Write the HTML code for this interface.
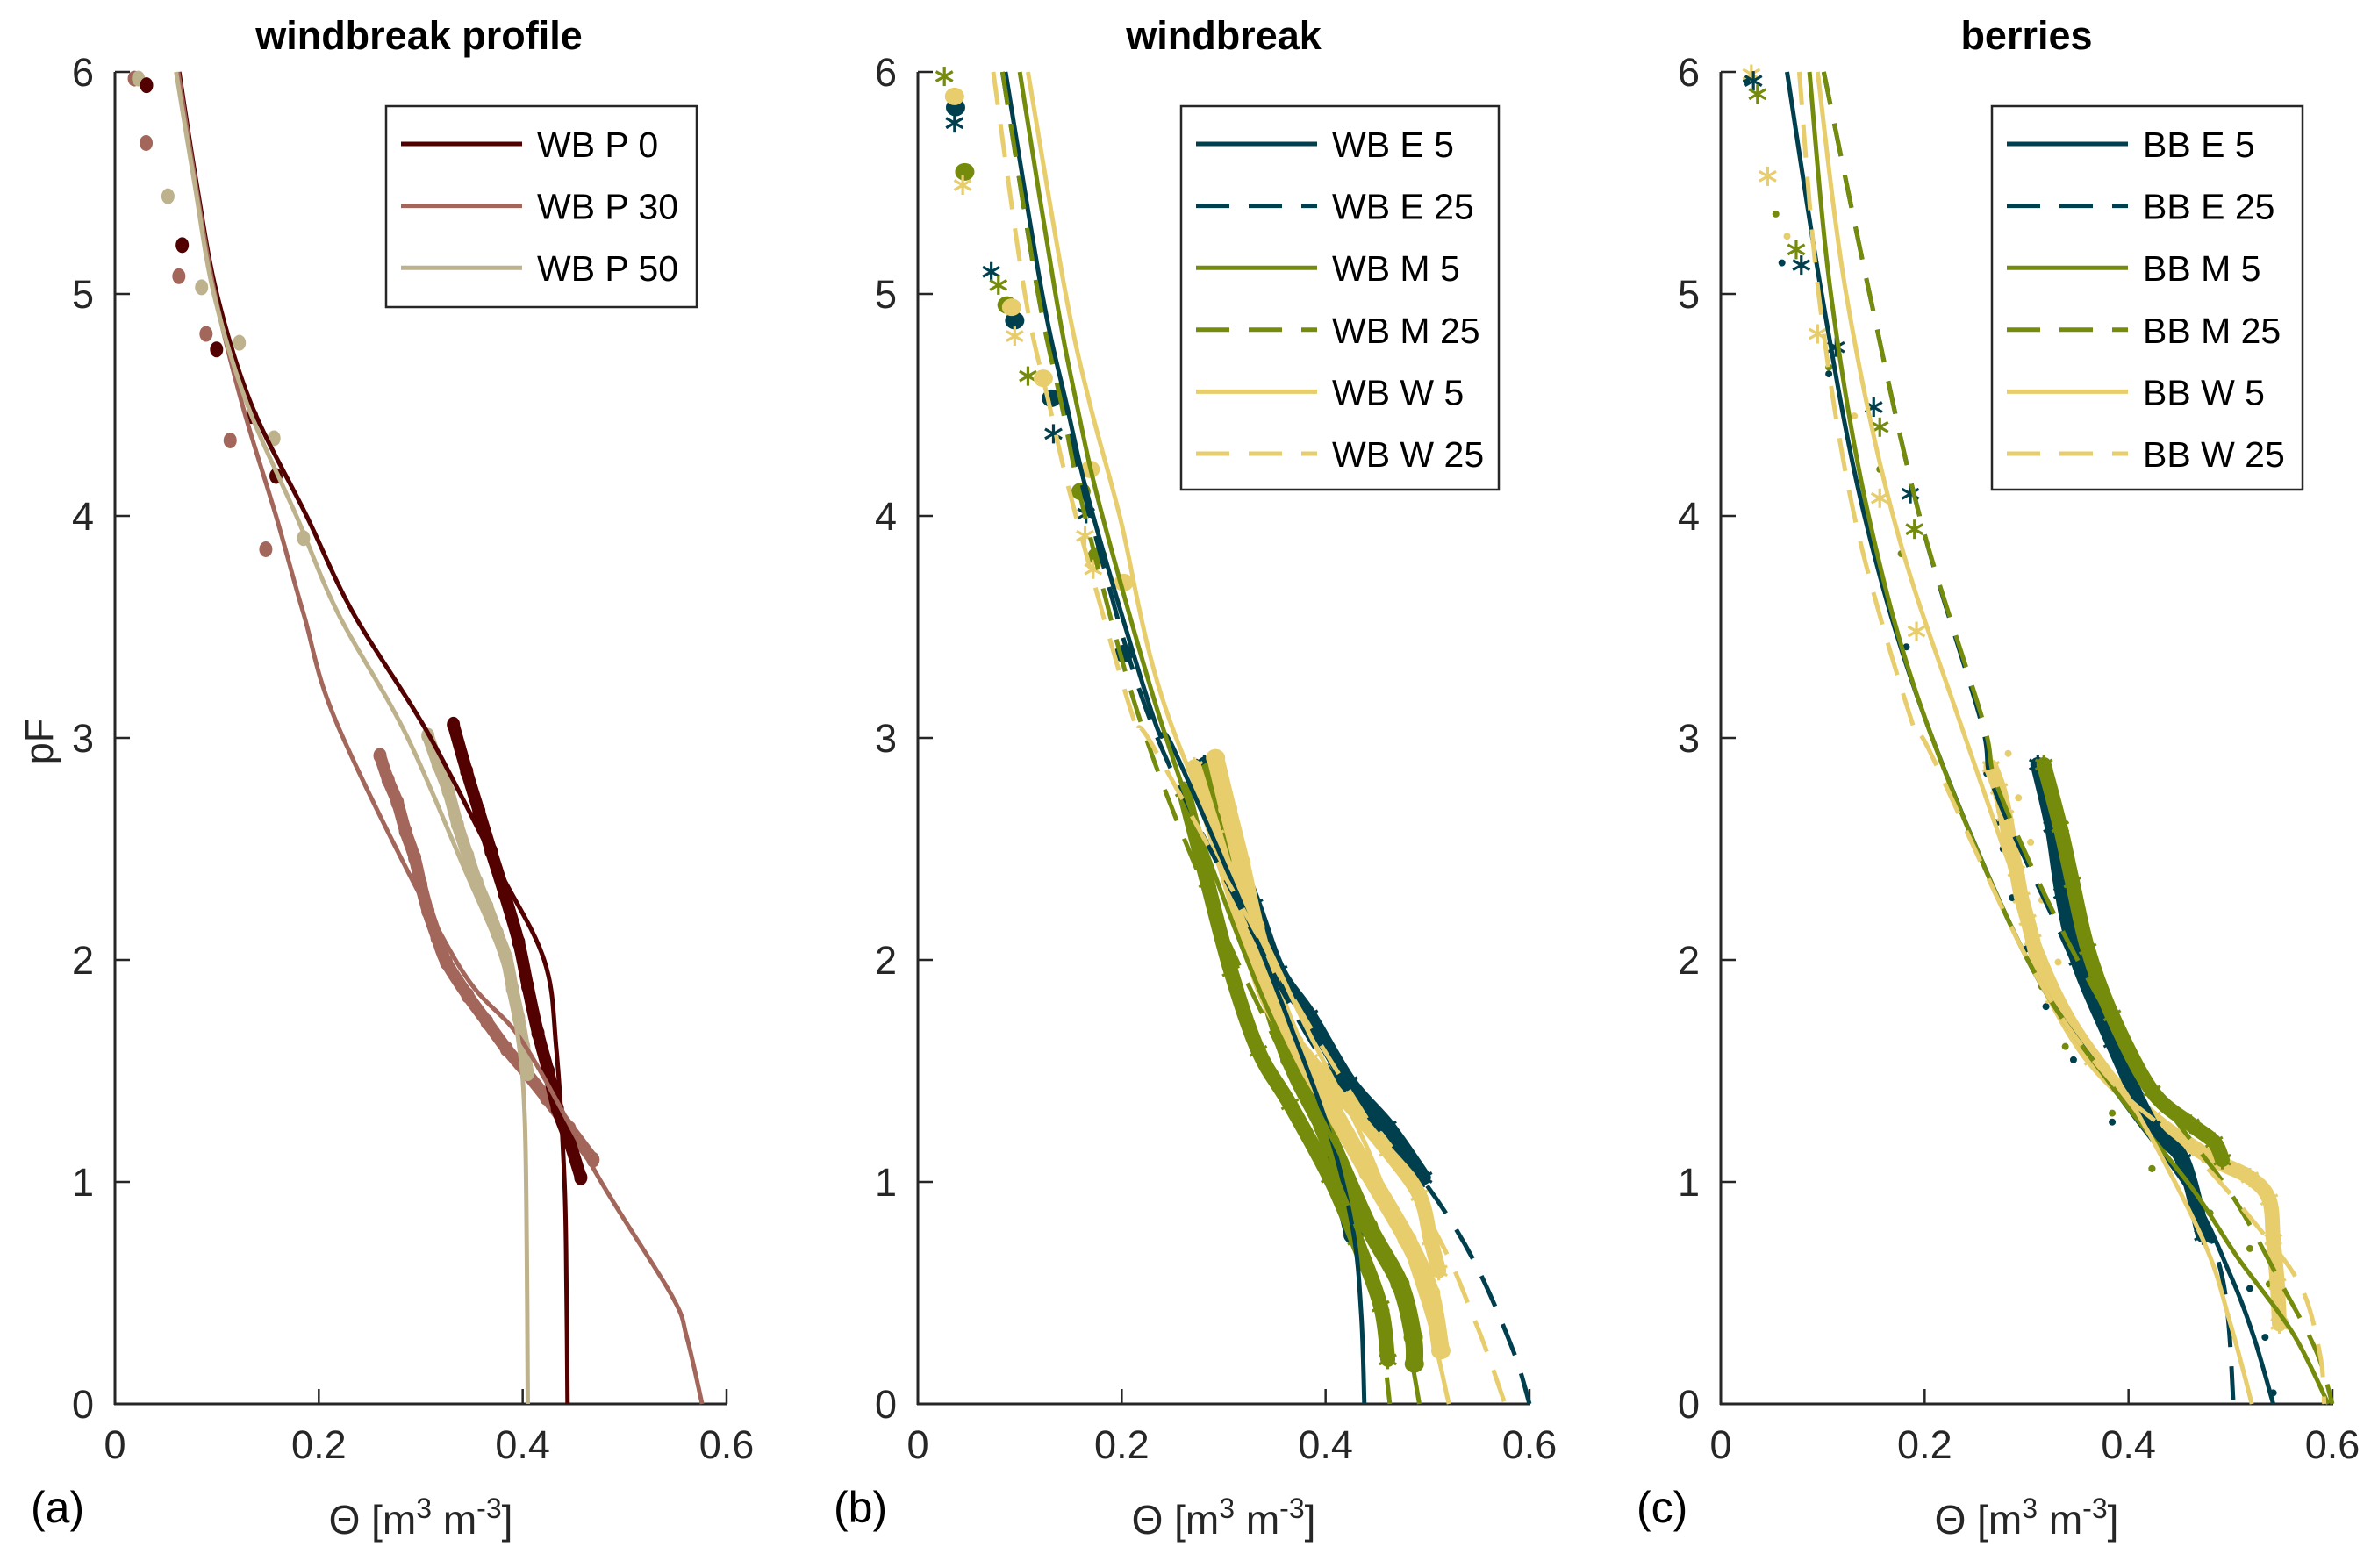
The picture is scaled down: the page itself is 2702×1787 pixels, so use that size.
<!DOCTYPE html>
<html><head><meta charset="utf-8"><style>
html,body{margin:0;padding:0;background:#fff;}
svg text{font-family:"Liberation Sans",Arial,sans-serif;}
</style></head><body>
<svg id="chart" xmlns="http://www.w3.org/2000/svg" width="2702" height="1782" viewBox="0 0 2702 1782">
<rect width="2702" height="1782" fill="#fff"/>
</svg>
<script>
// ---------- data ----------
const xTicks = [0, 0.2, 0.4, 0.6];
const xTickLabels = ["0", "0.2", "0.4", "0.6"];
const yTicks = [0, 1, 2, 3, 4, 5, 6];
const yTickLabels = ["0", "1", "2", "3", "4", "5", "6"];
const panelTitles = ["windbreak profile", "windbreak", "berries"];
const panelLetters = ["(a)", "(b)", "(c)"];

// Panel a fitted curves [theta, pF]
const aP0fit = [[0.063,6],[0.080,5.5],[0.100,5],[0.134,4.5],[0.188,4],[0.234,3.56],[0.306,3.03],[0.375,2.42],[0.421,2.0],[0.433,1.6],[0.441,1.0],[0.443,0.5],[0.444,0]];
const aP30fit = [[0.062,6],[0.079,5.5],[0.098,5],[0.125,4.5],[0.158,4],[0.185,3.56],[0.221,3.03],[0.334,2.0],[0.40,1.63],[0.477,1.0],[0.546,0.49],[0.561,0.30],[0.576,0]];
const aP50fit = [[0.060,6],[0.078,5.5],[0.097,5],[0.130,4.5],[0.178,4],[0.219,3.56],[0.284,3.03],[0.342,2.42],[0.380,2.0],[0.396,1.63],[0.402,1.29],[0.404,0.7],[0.405,0]];
// Panel a observations
const aP0obs = [[0.031,5.94],[0.066,5.22],[0.0997,4.75],[0.134,4.45],[0.158,4.18],[0.332,3.06],[0.345,2.85],[0.357,2.67],[0.369,2.49],[0.382,2.30],[0.396,2.08],[0.405,1.88],[0.415,1.67],[0.425,1.50],[0.434,1.33],[0.446,1.18],[0.457,1.02]];
const aP30obs = [[0.019,5.97],[0.0306,5.68],[0.0627,5.08],[0.0894,4.82],[0.113,4.34],[0.148,3.85],[0.260,2.92],[0.268,2.81],[0.277,2.71],[0.285,2.58],[0.294,2.46],[0.300,2.34],[0.307,2.22],[0.316,2.10],[0.325,1.99],[0.346,1.84],[0.365,1.72],[0.384,1.60],[0.404,1.49],[0.423,1.38],[0.446,1.24],[0.469,1.10]];
const aP50obs = [[0.023,5.97],[0.052,5.44],[0.085,5.03],[0.122,4.78],[0.156,4.35],[0.185,3.90],[0.307,3.01],[0.317,2.88],[0.327,2.76],[0.336,2.61],[0.346,2.47],[0.355,2.35],[0.365,2.24],[0.375,2.12],[0.384,2.01],[0.390,1.87],[0.396,1.74],[0.401,1.61],[0.405,1.49]];

// Panel b fitted curves
const bE5fit = [[0.086,6],[0.122,5],[0.146,4.5],[0.172,4],[0.232,3.08],[0.25,2.96],[0.327,2.15],[0.365,1.71],[0.404,1.22],[0.427,0.78],[0.435,0.4],[0.438,0]];
const bE25fit = [[0.083,6],[0.118,5],[0.142,4.5],[0.169,4],[0.228,3.08],[0.32,2.2],[0.39,1.6],[0.45,1.25],[0.50,0.98],[0.546,0.64],[0.584,0.24],[0.600,0]];
const bM5fit = [[0.100,6],[0.135,5],[0.156,4.5],[0.181,4],[0.238,3.08],[0.29,2.4],[0.346,1.75],[0.423,1.04],[0.465,0.56],[0.480,0.3],[0.492,0]];
const bM25fit = [[0.083,6],[0.118,5],[0.141,4.5],[0.164,4],[0.218,3.08],[0.292,2.21],[0.384,1.31],[0.442,0.64],[0.455,0.3],[0.463,0]];
const bW5fit = [[0.108,6],[0.145,5],[0.169,4.5],[0.198,4],[0.247,3.08],[0.365,1.85],[0.442,1.14],[0.496,0.46],[0.521,0]];
const bW25fit = [[0.074,6],[0.105,5],[0.129,4.5],[0.155,4],[0.212,3.08],[0.231,2.96],[0.373,1.79],[0.50,0.84],[0.546,0.38],[0.576,0]];
// Panel b observations
const bEcirc = [[0.037,5.84],[0.095,4.88],[0.131,4.53],[0.202,3.38],[0.284,2.88],[0.300,2.55],[0.320,2.2],[0.346,1.85],[0.365,1.65],[0.384,1.45],[0.405,1.15],[0.427,0.76]];
const bEstar = [[0.036,5.77],[0.072,5.10],[0.133,4.37],[0.165,4.01],[0.281,2.88],[0.304,2.56],[0.33,2.25],[0.354,1.95],[0.384,1.75],[0.423,1.45],[0.461,1.25],[0.496,1.02]];
const bMcirc = [[0.046,5.55],[0.0875,4.95],[0.160,4.11],[0.176,3.82],[0.286,2.85],[0.307,2.58],[0.319,2.35],[0.338,1.95],[0.365,1.55],[0.404,1.19],[0.442,0.80],[0.473,0.54],[0.486,0.30],[0.487,0.18]];
const bMstar = [[0.026,5.98],[0.079,5.04],[0.108,4.63],[0.261,2.76],[0.284,2.35],[0.307,1.95],[0.334,1.59],[0.365,1.35],[0.404,1.02],[0.430,0.74],[0.454,0.44],[0.461,0.20]];
const bWcirc = [[0.036,5.89],[0.092,4.94],[0.123,4.62],[0.169,4.21],[0.202,3.70],[0.292,2.91],[0.304,2.68],[0.317,2.44],[0.331,2.15],[0.346,1.91],[0.369,1.63],[0.404,1.35],[0.442,1.04],[0.480,0.74],[0.503,0.50],[0.513,0.24]];
const bWstar = [[0.044,5.49],[0.095,4.81],[0.164,3.91],[0.172,3.76],[0.271,2.87],[0.292,2.56],[0.319,2.15],[0.346,1.79],[0.384,1.55],[0.423,1.35],[0.461,1.14],[0.492,0.94],[0.503,0.74],[0.511,0.60]];

// Panel c fitted curves
const cE5fit = [[0.065,6],[0.099,5],[0.141,4],[0.201,3.08],[0.300,2.01],[0.384,1.43],[0.461,0.95],[0.50,0.58],[0.523,0.30],[0.542,0]];
const cE25fit = [[0.101,6],[0.146,5],[0.195,4],[0.255,3.08],[0.269,2.76],[0.338,2.07],[0.404,1.38],[0.453,1.06],[0.492,0.57],[0.503,0]];
const cM5fit = [[0.087,6],[0.108,5],[0.145,4],[0.201,3.08],[0.300,2.01],[0.384,1.43],[0.461,0.98],[0.507,0.66],[0.561,0.32],[0.596,0]];
const cM25fit = [[0.101,6],[0.146,5],[0.195,4],[0.257,3.08],[0.273,2.76],[0.342,2.07],[0.423,1.43],[0.50,0.95],[0.55,0.54],[0.584,0.24],[0.600,0]];
const cW5fit = [[0.095,6],[0.123,5],[0.169,4],[0.231,3.12],[0.327,1.91],[0.404,1.35],[0.473,0.74],[0.50,0.36],[0.521,0]];
const cW25fit = [[0.077,6],[0.096,5],[0.131,4],[0.187,3.08],[0.205,2.94],[0.307,1.95],[0.384,1.45],[0.461,1.14],[0.53,0.78],[0.57,0.52],[0.588,0.22],[0.592,0]];
// Panel c observations
const cEstar = [[0.032,5.96],[0.079,5.13],[0.113,4.76],[0.150,4.49],[0.186,4.10],[0.311,2.88],[0.325,2.6],[0.335,2.3],[0.35,2.0],[0.384,1.63],[0.423,1.25],[0.453,1.10],[0.473,0.76]];
const cMstar = [[0.036,5.90],[0.074,5.20],[0.156,4.40],[0.19,3.94],[0.317,2.88],[0.333,2.6],[0.345,2.35],[0.36,2.05],[0.384,1.75],[0.423,1.41],[0.461,1.26],[0.484,1.18],[0.492,1.10]];
const cWstar = [[0.030,5.99],[0.046,5.53],[0.095,4.82],[0.156,4.08],[0.192,3.48],[0.265,2.87],[0.273,2.77],[0.279,2.65],[0.284,2.52],[0.29,2.40],[0.295,2.28],[0.301,2.18],[0.306,2.09],[0.311,2.00],[0.327,1.83],[0.365,1.55],[0.423,1.29],[0.480,1.11],[0.519,1.02],[0.538,0.92],[0.542,0.74],[0.546,0.54],[0.548,0.36]];
const cEdot = [[0.025,5.96],[0.060,5.14],[0.106,4.64],[0.182,3.41],[0.261,2.84],[0.271,2.62],[0.277,2.50],[0.286,2.28],[0.300,2.05],[0.319,1.79],[0.346,1.55],[0.384,1.27],[0.423,1.06],[0.48,0.74],[0.519,0.52],[0.534,0.30],[0.542,0.05]];
const cMdot = [[0.054,5.36],[0.106,4.67],[0.156,4.21],[0.177,3.83],[0.284,2.55],[0.294,2.34],[0.315,1.88],[0.338,1.61],[0.384,1.31],[0.423,1.06],[0.48,0.86],[0.519,0.70],[0.538,0.54]];
const cWdot = [[0.065,5.26],[0.131,4.45],[0.282,2.93],[0.292,2.73],[0.304,2.53],[0.315,2.27],[0.331,1.99],[0.354,1.67],[0.384,1.45],[0.423,1.25]];

// ---------- drawing ----------
const NS = "http://www.w3.org/2000/svg";
const svg = document.getElementById("chart");
const panelX0 = [131, 1046, 1961];
const plotW = 697, yTop = 82, yBot = 1600;
const C = {p0:"#520000", p30:"#a3665a", p50:"#beb28c", E:"#003f4e", M:"#748b0c", W:"#e7cd6b"};

function mk(tag, attrs, parent){
  const el = document.createElementNS(NS, tag);
  for (const k in attrs) el.setAttribute(k, attrs[k]);
  (parent || svg).appendChild(el);
  return el;
}
function sxF(p){ return t => panelX0[p] + t / 0.6 * plotW; }
function sy(v){ return yBot - v / 6 * (yBot - yTop); }

function smoothPath(pts){
  if (pts.length < 3) return "M" + pts.map(q => q[0] + "," + q[1]).join(" L");
  let d = "M" + pts[0][0] + "," + pts[0][1];
  for (let i = 0; i < pts.length - 1; i++) {
    const p0 = pts[i - 1] || pts[i], p1 = pts[i], p2 = pts[i + 1], p3 = pts[i + 2] || pts[i + 1];
    const c1x = p1[0] + (p2[0] - p0[0]) / 6, c1y = p1[1] + (p2[1] - p0[1]) / 6;
    const c2x = p2[0] - (p3[0] - p1[0]) / 6, c2y = p2[1] - (p3[1] - p1[1]) / 6;
    d += " C" + c1x + "," + c1y + " " + c2x + "," + c2y + " " + p2[0] + "," + p2[1];
  }
  return d;
}

function drawAxes(p){
  const sx = sxF(p);
  const g = mk("g", {});
  
  
  mk("line", {x1:sx(0), y1:yTop, x2:sx(0), y2:yBot+1, stroke:"#262626", "stroke-width":3}, g);
  mk("line", {x1:sx(0)-1, y1:yBot, x2:sx(0.6)+1, y2:yBot, stroke:"#262626", "stroke-width":3}, g);
  yTicks.forEach((v, i) => {
    mk("line", {x1:sx(0), y1:sy(v), x2:sx(0)+17, y2:sy(v), stroke:"#262626", "stroke-width":2.5}, g);
    const t = mk("text", {x:sx(0)-24, y:sy(v)+16, "text-anchor":"end", "font-size":45, fill:"#262626"}, g);
    
    
    t.textContent = yTickLabels[i];
  });
  xTicks.forEach((v, i) => {
    mk("line", {x1:sx(v), y1:yBot, x2:sx(v), y2:yBot-17, stroke:"#262626", "stroke-width":2.5}, g);
    const t = mk("text", {x:sx(v), y:yBot+62, "text-anchor":"middle", "font-size":45, fill:"#262626"}, g);
    
    
    t.textContent = xTickLabels[i];
  });
  const title = mk("text", {x:sx(0.3)+(p===0?-2:0), y:56, "text-anchor":"middle", "font-size":45, "font-weight":"bold", fill:"#000"}, g);
  
  
  title.textContent = panelTitles[p];
  const xl = mk("text", {x:sx(0.3), y:1748, "text-anchor":"middle", "font-size":46, fill:"#262626"}, g);
  
  
  xl.innerHTML = 'Θ [m<tspan dy="-18" font-size="32">3</tspan><tspan dy="18"> m</tspan><tspan dy="-18" font-size="32">-3</tspan><tspan dy="18">]</tspan>';
  const lt = mk("text", {x:sx(0)-96, y:1735, "font-size":50, fill:"#000"}, g);
  
  
  lt.textContent = panelLetters[p];
}

function drawFit(p, data, color, dashed, name){
  const sx = sxF(p);
  const path = mk("path", {d:smoothPath(data.map(d => [sx(d[0]), sy(d[1])])), fill:"none", stroke:color, "stroke-width":5, "stroke-linejoin":"round"});
  if (dashed) path.setAttribute("stroke-dasharray", "38 22");
  
  
}

function drawObs(p, data, color, marker, name){
  const sx = sxF(p);
  const g = mk("g", {});
  
  
  const dense = data.filter(d => d[1] < 3.1);
  const bw = marker === "o" ? (p === 0 ? 14 : 20) : marker === "*" ? 17 : 6;
  if (dense.length > 1 && marker !== ".") {
    mk("path", {d:smoothPath(dense.map(d => [sx(d[0]), sy(d[1])])), fill:"none", stroke:color, "stroke-width":bw, "stroke-linecap":"round", "stroke-linejoin":"round"}, g);
  }
  data.forEach(d => {
    const x = sx(d[0]), y = sy(d[1]);
    if (marker === "o") {
      mk("ellipse", {cx:x, cy:y, rx:p === 0 ? 7.5 : 11, ry:p === 0 ? 9 : 10, fill:color}, g);
    } else if (marker === ".") {
      mk("circle", {cx:x, cy:y, r:4, fill:color}, g);
    } else {
      const r = 11;
      const s = [[0,-r,0,r],[-r*0.87,-r*0.5,r*0.87,r*0.5],[-r*0.87,r*0.5,r*0.87,-r*0.5]];
      s.forEach(q => mk("line", {x1:x+q[0], y1:y+q[1], x2:x+q[2], y2:y+q[3], stroke:color, "stroke-width":3.2}, g));
    }
  });
}

function drawLegend(p, box, entries){
  const g = mk("g", {});
  
  
  mk("rect", {x:box[0], y:box[1], width:box[2], height:box[3], fill:"#fff", stroke:"#262626", "stroke-width":2.5}, g);
  entries.forEach((e, i) => {
    const y = box[1] + 43 + i * 70.6;
    const ln = mk("line", {x1:box[0]+17, y1:y, x2:box[0]+155, y2:y, stroke:e[1], "stroke-width":5}, g);
    if (e[2]) ln.setAttribute("stroke-dasharray", "38 22");
    const t = mk("text", {x:box[0]+172, y:y+15, "font-size":41, fill:"#000"}, g);
    
    
    t.textContent = e[0];
  });
}

[0,1,2].forEach(drawAxes);

// Panel a
drawObs(0, aP30obs, C.p30, "o", "obs-wb-p30");
drawObs(0, aP50obs, C.p50, "o", "obs-wb-p50");
drawObs(0, aP0obs, C.p0, "o", "obs-wb-p0");
drawFit(0, aP0fit, C.p0, false, "fit-wb-p0");
drawFit(0, aP30fit, C.p30, false, "fit-wb-p30");
drawFit(0, aP50fit, C.p50, false, "fit-wb-p50");
drawLegend(0, [440,121,354,229], [["WB P 0", C.p0, false],["WB P 30", C.p30, false],["WB P 50", C.p50, false]]);

// Panel b
drawObs(1, bEstar, C.E, "*", "obs-wb-e-25");
drawObs(1, bEcirc, C.E, "o", "obs-wb-e-5");
drawObs(1, bMstar, C.M, "*", "obs-wb-m-25");
drawObs(1, bMcirc, C.M, "o", "obs-wb-m-5");
drawObs(1, bWstar, C.W, "*", "obs-wb-w-25");
drawObs(1, bWcirc, C.W, "o", "obs-wb-w-5");
drawFit(1, bE5fit, C.E, false, "fit-wb-e-5");
drawFit(1, bE25fit, C.E, true, "fit-wb-e-25");
drawFit(1, bM5fit, C.M, false, "fit-wb-m-5");
drawFit(1, bM25fit, C.M, true, "fit-wb-m-25");
drawFit(1, bW5fit, C.W, false, "fit-wb-w-5");
drawFit(1, bW25fit, C.W, true, "fit-wb-w-25");
drawLegend(1, [1346,121,362,437], [["WB E 5", C.E, false],["WB E 25", C.E, true],["WB M 5", C.M, false],["WB M 25", C.M, true],["WB W 5", C.W, false],["WB W 25", C.W, true]]);

// Panel c
drawObs(2, cWdot, C.W, ".", "obs-bb-w-5");
drawObs(2, cEdot, C.E, ".", "obs-bb-e-5");
drawObs(2, cMdot, C.M, ".", "obs-bb-m-5");
drawObs(2, cWstar, C.W, "*", "obs-bb-w-25");
drawObs(2, cEstar, C.E, "*", "obs-bb-e-25");
drawObs(2, cMstar, C.M, "*", "obs-bb-m-25");
drawFit(2, cE5fit, C.E, false, "fit-bb-e-5");
drawFit(2, cE25fit, C.E, true, "fit-bb-e-25");
drawFit(2, cM5fit, C.M, false, "fit-bb-m-5");
drawFit(2, cM25fit, C.M, true, "fit-bb-m-25");
drawFit(2, cW5fit, C.W, false, "fit-bb-w-5");
drawFit(2, cW25fit, C.W, true, "fit-bb-w-25");
drawLegend(2, [2270,121,354,437], [["BB E 5", C.E, false],["BB E 25", C.E, true],["BB M 5", C.M, false],["BB M 25", C.M, true],["BB W 5", C.W, false],["BB W 25", C.W, true]]);

// y axis title
const yl = mk("text", {x:0, y:0, "text-anchor":"middle", "font-size":45, fill:"#262626", transform:"translate(60,845) rotate(-90)"});


yl.textContent = "pF";
</script>
</body></html>
